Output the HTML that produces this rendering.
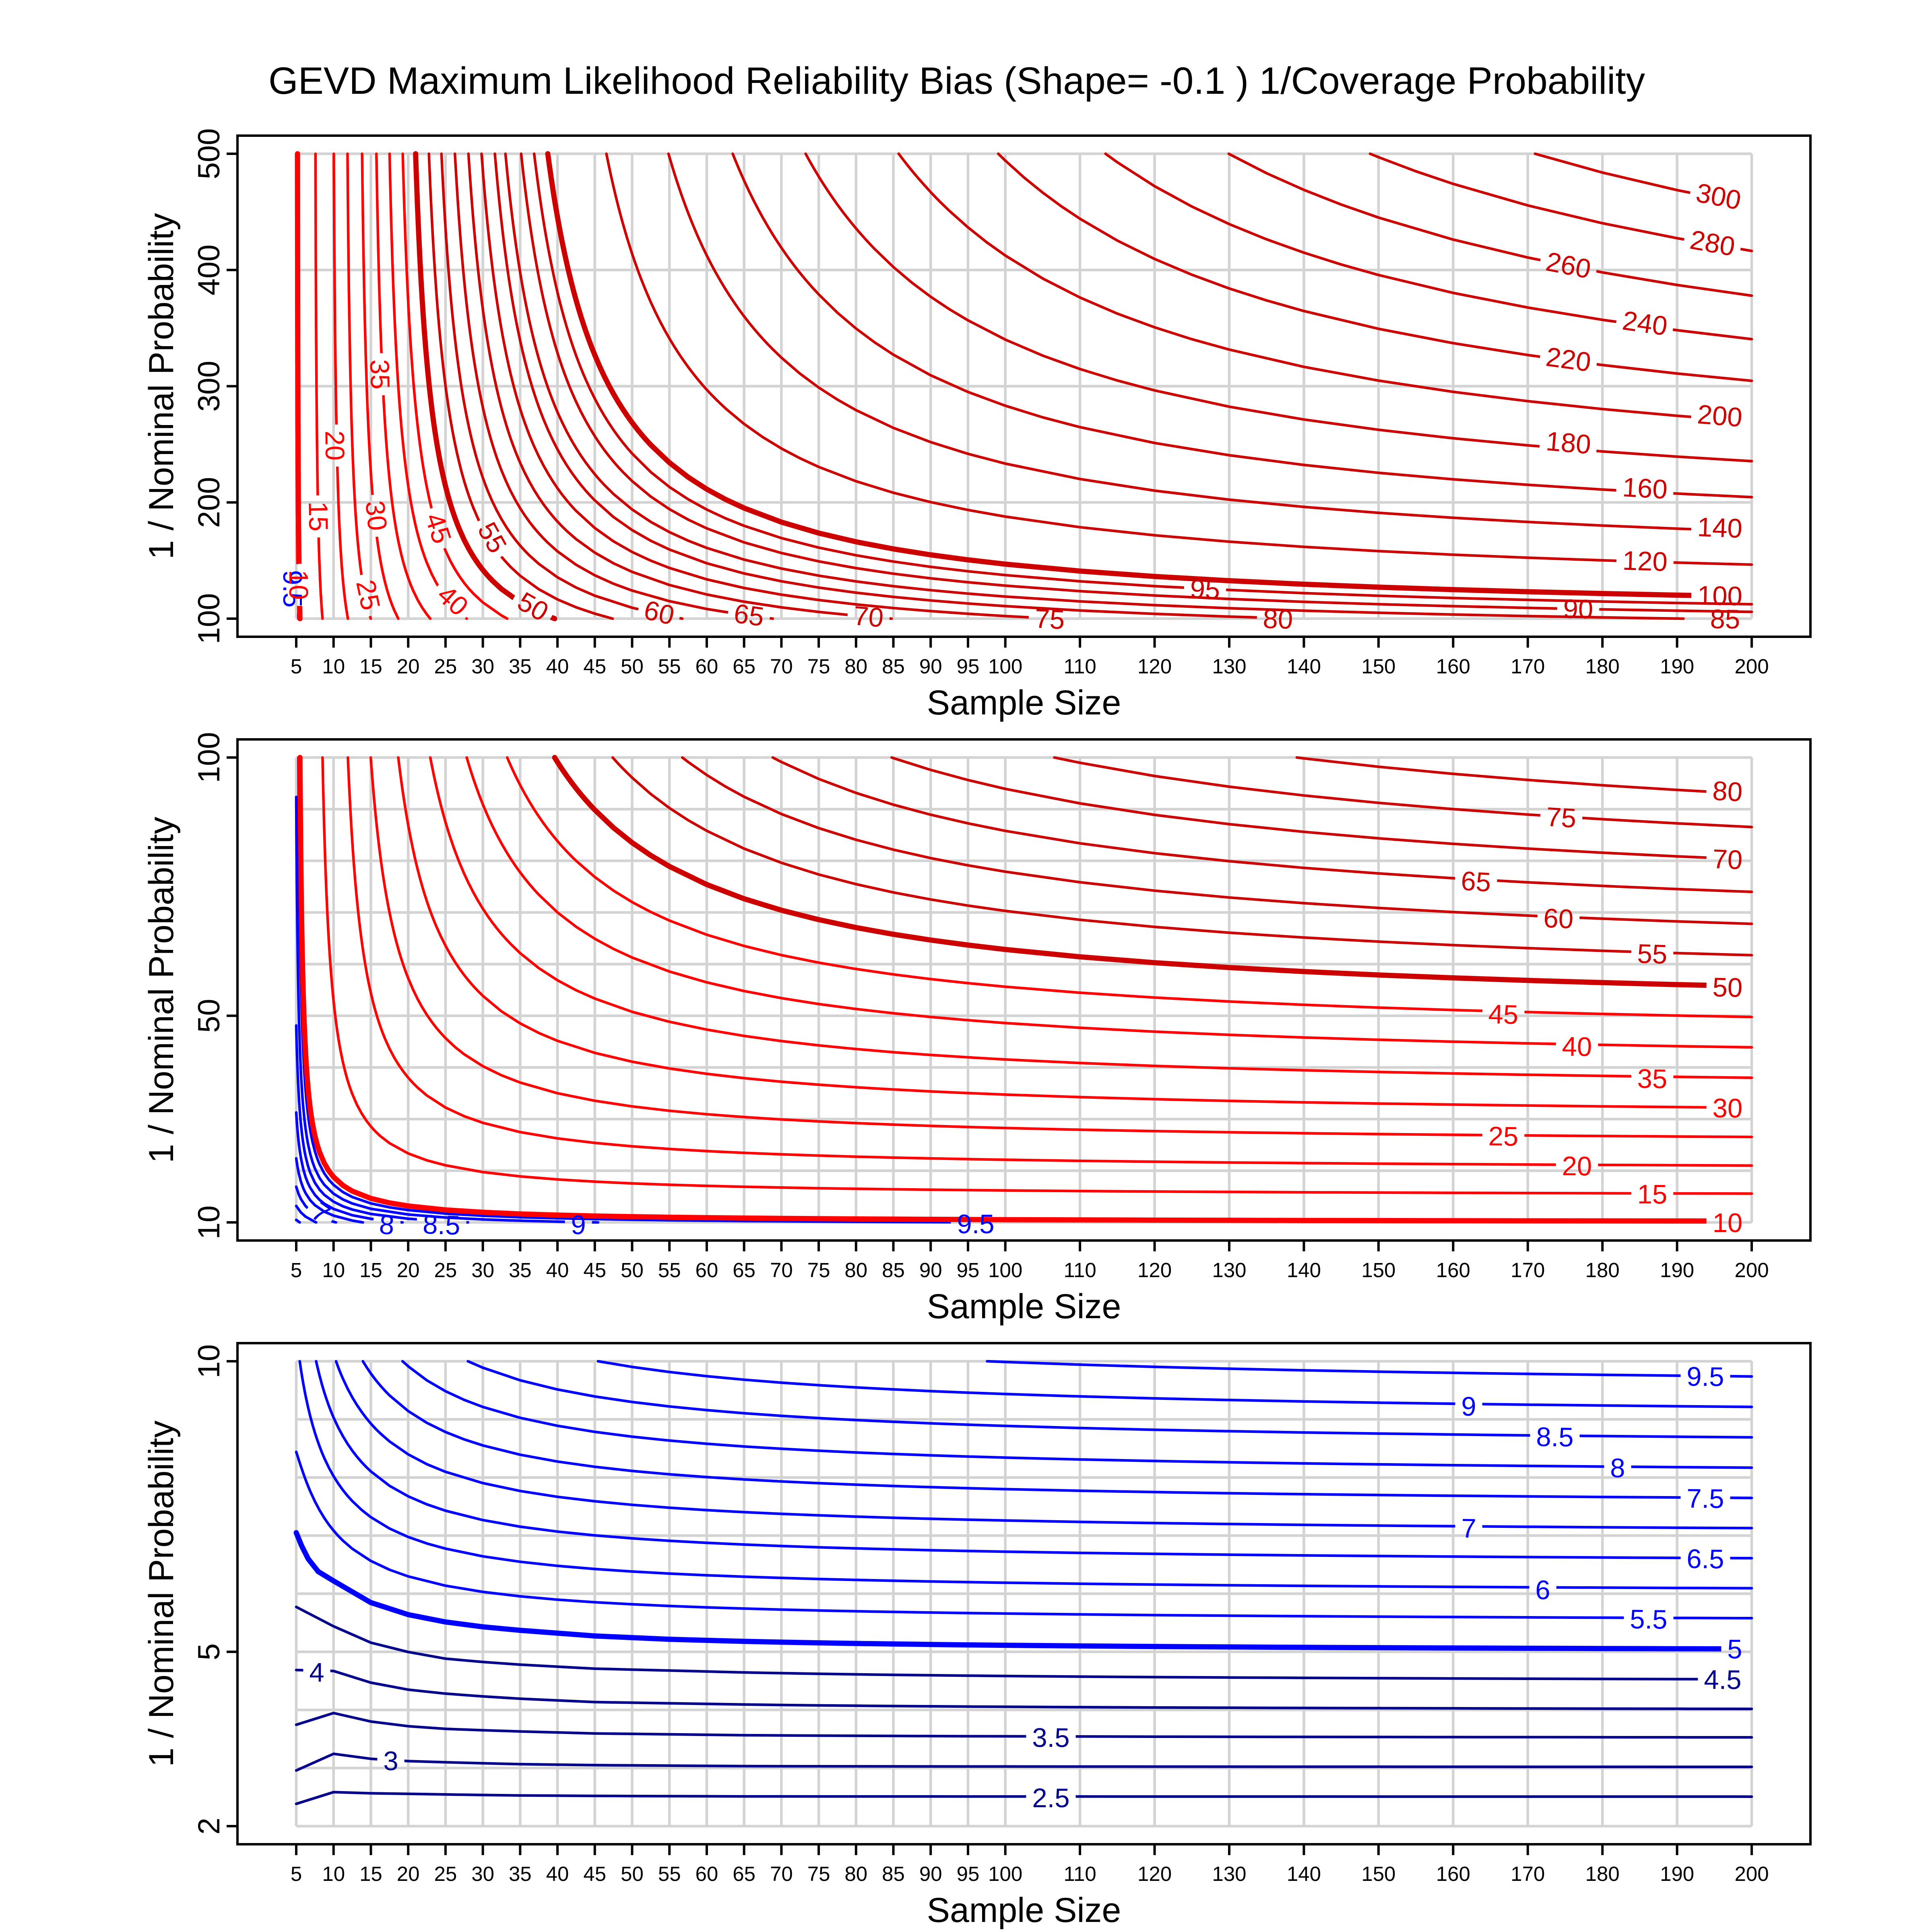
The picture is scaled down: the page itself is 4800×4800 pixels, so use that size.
<!DOCTYPE html>
<html><head><meta charset="utf-8">
<style>
html,body{margin:0;padding:0;background:#fff;}
svg{display:block;}
text{font-family:"Liberation Sans",Arial,sans-serif;}
</style></head><body>
<svg id="svg" xmlns="http://www.w3.org/2000/svg" width="4800" height="4800" viewBox="0 0 4800 4800">
<defs>
<path id="vgrid" d="M736 382V1537M828.72 382V1537M921.44 382V1537M1014.16 382V1537M1106.88 382V1537M1199.6 382V1537M1292.32 382V1537M1385.04 382V1537M1477.76 382V1537M1570.48 382V1537M1663.2 382V1537M1755.92 382V1537M1848.64 382V1537M1941.36 382V1537M2034.08 382V1537M2126.8 382V1537M2219.52 382V1537M2312.24 382V1537M2404.96 382V1537M2497.68 382V1537M2683.12 382V1537M2868.56 382V1537M3054 382V1537M3239.44 382V1537M3424.88 382V1537M3610.32 382V1537M3795.76 382V1537M3981.2 382V1537M4166.64 382V1537M4352.08 382V1537"/>
<path id="xticks" d="M736 1582V1609M828.72 1582V1609M921.44 1582V1609M1014.16 1582V1609M1106.88 1582V1609M1199.6 1582V1609M1292.32 1582V1609M1385.04 1582V1609M1477.76 1582V1609M1570.48 1582V1609M1663.2 1582V1609M1755.92 1582V1609M1848.64 1582V1609M1941.36 1582V1609M2034.08 1582V1609M2126.8 1582V1609M2219.52 1582V1609M2312.24 1582V1609M2404.96 1582V1609M2497.68 1582V1609M2683.12 1582V1609M2868.56 1582V1609M3054 1582V1609M3239.44 1582V1609M3424.88 1582V1609M3610.32 1582V1609M3795.76 1582V1609M3981.2 1582V1609M4166.64 1582V1609M4352.08 1582V1609"/>
</defs>
<rect width="4800" height="4800" fill="#fff"/>
<text x="667" y="233" font-size="95" textLength="3420" lengthAdjust="spacingAndGlyphs">GEVD Maximum Likelihood Reliability Bias (Shape= -0.1 ) 1/Coverage Probability</text>

<!-- PANEL 1 -->
<g id="panel1">
<g stroke="#D3D3D3" stroke-width="6.5" fill="none">
<use href="#vgrid"/>
<path d="M736 382H4352M736 670.75H4352M736 959.5H4352M736 1248.25H4352M736 1537H4352"/>
</g>
<g id="con1"></g>
<g id="lab1" font-size="67" text-anchor="middle">
<text x="4270" y="487" dy="0.36em" transform="rotate(11 4270 487)" fill="#CD0000">300</text>
<text x="4255" y="603" dy="0.36em" transform="rotate(10 4255 603)" fill="#CD0000">280</text>
<text x="3897" y="658" dy="0.36em" transform="rotate(11 3897 658)" fill="#CD0000">260</text>
<text x="4087" y="802" dy="0.36em" transform="rotate(8 4087 802)" fill="#CD0000">240</text>
<text x="3897" y="892" dy="0.36em" transform="rotate(7.7 3897 892)" fill="#CD0000">220</text>
<text x="4273" y="1032" dy="0.36em" transform="rotate(4.5 4273 1032)" fill="#CD0000">200</text>
<text x="3897" y="1099" dy="0.36em" transform="rotate(4.8 3897 1099)" fill="#CD0000">180</text>
<text x="4087" y="1212" dy="0.36em" transform="rotate(3.2 4087 1212)" fill="#CD0000">160</text>
<text x="4273" y="1310" dy="0.36em" transform="rotate(2.1 4273 1310)" fill="#CD0000">140</text>
<text x="4087" y="1393" dy="0.36em" transform="rotate(1.8 4087 1393)" fill="#CD0000">120</text>
<text x="4273" y="1479" dy="0.36em" transform="rotate(1.1 4273 1479)" fill="#CD0000">100</text>
<text x="2994" y="1463" dy="0.36em" transform="rotate(2.8 2994 1463)" fill="#CD0000">95</text>
<text x="3921" y="1512" dy="0.36em" transform="rotate(1.1 3921 1512)" fill="#CD0000">90</text>
<text x="4286" y="1537" dy="0.36em" transform="rotate(0.8 4286 1537)" fill="#CD0000">85</text>
<text x="3175" y="1537" dy="0.36em" transform="rotate(1.7 3175 1537)" fill="#CD0000">80</text>
<text x="2608" y="1537" dy="0.36em" transform="rotate(2.8 2608 1537)" fill="#CD0000">75</text>
<text x="2158" y="1531" dy="0.36em" transform="rotate(5 2158 1531)" fill="#CD0000">70</text>
<text x="1861" y="1527" dy="0.36em" transform="rotate(8 1861 1527)" fill="#CD0000">65</text>
<text x="1638" y="1521" dy="0.36em" transform="rotate(13 1638 1521)" fill="#CD0000">60</text>
<text x="1224" y="1335" dy="0.36em" transform="rotate(61 1224 1335)" fill="#CD0000">55</text>
<text x="1325" y="1506" dy="0.36em" transform="rotate(30 1325 1506)" fill="#CD0000">50</text>
<text x="1090" y="1312" dy="0.36em" transform="rotate(72 1090 1312)" fill="#FF0000">45</text>
<text x="1126" y="1491" dy="0.36em" transform="rotate(42 1126 1491)" fill="#FF0000">40</text>
<text x="945" y="930" dy="0.36em" transform="rotate(88 945 930)" fill="#FF0000">35</text>
<text x="936" y="1281" dy="0.36em" transform="rotate(84 936 1281)" fill="#FF0000">30</text>
<text x="916" y="1478" dy="0.36em" transform="rotate(78 916 1478)" fill="#FF0000">25</text>
<text x="833" y="1107" dy="0.36em" transform="rotate(89 833 1107)" fill="#FF0000">20</text>
<text x="792" y="1283" dy="0.36em" transform="rotate(89 792 1283)" fill="#FF0000">15</text>
<text x="728" y="1463" dy="0.36em" transform="rotate(90 728 1463)" fill="#0000FF">9.5</text>
<text x="743" y="1453" dy="0.36em" transform="rotate(90 743 1453)" fill="#FF0000">10</text>
</g>
<rect x="590" y="337" width="3908" height="1245" fill="none" stroke="#000" stroke-width="6"/>
<use href="#xticks" stroke="#000" stroke-width="6"/>
<path d="M563 382H590M563 670.75H590M563 959.5H590M563 1248.25H590M563 1537H590" stroke="#000" stroke-width="6"/>
<g font-size="76" text-anchor="middle">
<text x="545" y="382" transform="rotate(-90 545 382)">500</text>
<text x="545" y="670.75" transform="rotate(-90 545 670.75)">400</text>
<text x="545" y="959.5" transform="rotate(-90 545 959.5)">300</text>
<text x="545" y="1248.25" transform="rotate(-90 545 1248.25)">200</text>
<text x="545" y="1537" transform="rotate(-90 545 1537)">100</text>
</g>
<g font-size="51" text-anchor="middle">
<text x="736" y="1673">5</text><text x="828.72" y="1673">10</text><text x="921.44" y="1673">15</text><text x="1014.16" y="1673">20</text><text x="1106.88" y="1673">25</text><text x="1199.6" y="1673">30</text><text x="1292.32" y="1673">35</text><text x="1385.04" y="1673">40</text><text x="1477.76" y="1673">45</text><text x="1570.48" y="1673">50</text><text x="1663.2" y="1673">55</text><text x="1755.92" y="1673">60</text><text x="1848.64" y="1673">65</text><text x="1941.36" y="1673">70</text><text x="2034.08" y="1673">75</text><text x="2126.8" y="1673">80</text><text x="2219.52" y="1673">85</text><text x="2312.24" y="1673">90</text><text x="2404.96" y="1673">95</text><text x="2497.68" y="1673">100</text><text x="2683.12" y="1673">110</text><text x="2868.56" y="1673">120</text><text x="3054" y="1673">130</text><text x="3239.44" y="1673">140</text><text x="3424.88" y="1673">150</text><text x="3610.32" y="1673">160</text><text x="3795.76" y="1673">170</text><text x="3981.2" y="1673">180</text><text x="4166.64" y="1673">190</text><text x="4352.08" y="1673">200</text>
</g>
<text x="2544" y="1775" font-size="86" text-anchor="middle">Sample Size</text>
<text x="430" y="959.5" font-size="86" text-anchor="middle" transform="rotate(-90 430 959.5)">1 / Nominal Probability</text>
</g>

<!-- PANEL 2 -->
<g id="panel2" transform="translate(0,1500)">
<g stroke="#D3D3D3" stroke-width="6.5" fill="none">
<use href="#vgrid"/>
<path d="M736 382H4352M736 510.33H4352M736 638.67H4352M736 767H4352M736 895.33H4352M736 1023.67H4352M736 1152H4352M736 1280.33H4352M736 1408.67H4352M736 1537H4352"/>
</g>
<g id="con2"></g>
<g id="lab2" font-size="67" text-anchor="middle">
<text x="4292" y="465" dy="0.36em" transform="rotate(3 4292 465)" fill="#CD0000">80</text>
<text x="3879" y="530" dy="0.36em" transform="rotate(3.6 3879 530)" fill="#CD0000">75</text>
<text x="4292" y="634" dy="0.36em" transform="rotate(2.4 4292 634)" fill="#CD0000">70</text>
<text x="3667" y="689" dy="0.36em" transform="rotate(3.2 3667 689)" fill="#CD0000">65</text>
<text x="3872" y="781" dy="0.36em" transform="rotate(2.4 3872 781)" fill="#CD0000">60</text>
<text x="4105" y="869" dy="0.36em" transform="rotate(1.7 4105 869)" fill="#CD0000">55</text>
<text x="4292" y="952" dy="0.36em" transform="rotate(1.2 4292 952)" fill="#CD0000">50</text>
<text x="3735" y="1019" dy="0.36em" transform="rotate(1.5 3735 1019)" fill="#FF0000">45</text>
<text x="3918" y="1099" dy="0.36em" transform="rotate(1.2 3918 1099)" fill="#FF0000">40</text>
<text x="4105" y="1179" dy="0.36em" transform="rotate(0.9 4105 1179)" fill="#FF0000">35</text>
<text x="4292" y="1252" dy="0.36em" transform="rotate(0.6 4292 1252)" fill="#FF0000">30</text>
<text x="3735" y="1322" dy="0.36em" transform="rotate(0.7 3735 1322)" fill="#FF0000">25</text>
<text x="3918" y="1396" dy="0.36em" transform="rotate(0.5 3918 1396)" fill="#FF0000">20</text>
<text x="4105" y="1466" dy="0.36em" transform="rotate(0.3 4105 1466)" fill="#FF0000">15</text>
<text x="4292" y="1537" dy="0.36em" transform="rotate(0 4292 1537)" fill="#FF0000">10</text>
<text x="2424" y="1540" dy="0.36em" transform="rotate(0 2424 1540)" fill="#0000FF">9.5</text>
<text x="1437" y="1542" dy="0.36em" transform="rotate(1 1437 1542)" fill="#0000FF">9</text>
<text x="1097" y="1542" dy="0.36em" transform="rotate(2 1097 1542)" fill="#0000FF">8.5</text>
<text x="961" y="1542" dy="0.36em" transform="rotate(4 961 1542)" fill="#0000FF">8</text>
<text x="798" y="1512" dy="0.36em" transform="rotate(35 798 1512)" fill="#0000FF">7</text>
</g>
<rect x="590" y="337" width="3908" height="1245" fill="none" stroke="#000" stroke-width="6"/>
<use href="#xticks" stroke="#000" stroke-width="6"/>
<path d="M563 382H590M563 1023.67H590M563 1537H590" stroke="#000" stroke-width="6"/>
<g font-size="76" text-anchor="middle">
<text x="545" y="382" transform="rotate(-90 545 382)">100</text>
<text x="545" y="1023.67" transform="rotate(-90 545 1023.67)">50</text>
<text x="545" y="1537" transform="rotate(-90 545 1537)">10</text>
</g>
<g font-size="51" text-anchor="middle">
<text x="736" y="1673">5</text><text x="828.72" y="1673">10</text><text x="921.44" y="1673">15</text><text x="1014.16" y="1673">20</text><text x="1106.88" y="1673">25</text><text x="1199.6" y="1673">30</text><text x="1292.32" y="1673">35</text><text x="1385.04" y="1673">40</text><text x="1477.76" y="1673">45</text><text x="1570.48" y="1673">50</text><text x="1663.2" y="1673">55</text><text x="1755.92" y="1673">60</text><text x="1848.64" y="1673">65</text><text x="1941.36" y="1673">70</text><text x="2034.08" y="1673">75</text><text x="2126.8" y="1673">80</text><text x="2219.52" y="1673">85</text><text x="2312.24" y="1673">90</text><text x="2404.96" y="1673">95</text><text x="2497.68" y="1673">100</text><text x="2683.12" y="1673">110</text><text x="2868.56" y="1673">120</text><text x="3054" y="1673">130</text><text x="3239.44" y="1673">140</text><text x="3424.88" y="1673">150</text><text x="3610.32" y="1673">160</text><text x="3795.76" y="1673">170</text><text x="3981.2" y="1673">180</text><text x="4166.64" y="1673">190</text><text x="4352.08" y="1673">200</text>
</g>
<text x="2544" y="1775" font-size="86" text-anchor="middle">Sample Size</text>
<text x="430" y="959.5" font-size="86" text-anchor="middle" transform="rotate(-90 430 959.5)">1 / Nominal Probability</text>
</g>

<!-- PANEL 3 -->
<g id="panel3" transform="translate(0,3000)">
<g stroke="#D3D3D3" stroke-width="6.5" fill="none">
<use href="#vgrid"/>
<path d="M736 382H4352M736 526.38H4352M736 670.75H4352M736 815.13H4352M736 959.5H4352M736 1103.88H4352M736 1248.25H4352M736 1392.63H4352M736 1537H4352"/>
</g>
<g id="con3"></g>
<g id="lab3" font-size="67" text-anchor="middle">
<text x="4237" y="419" dy="0.36em" transform="rotate(0.6 4237 419)" fill="#0000FF">9.5</text>
<text x="3649" y="493" dy="0.36em" transform="rotate(0.8 3649 493)" fill="#0000FF">9</text>
<text x="3863" y="569" dy="0.36em" transform="rotate(0.8 3863 569)" fill="#0000FF">8.5</text>
<text x="4019" y="646" dy="0.36em" transform="rotate(0.8 4019 646)" fill="#0000FF">8</text>
<text x="4237" y="722" dy="0.36em" transform="rotate(0.6 4237 722)" fill="#0000FF">7.5</text>
<text x="3649" y="796" dy="0.36em" transform="rotate(1 3649 796)" fill="#0000FF">7</text>
<text x="4237" y="872" dy="0.36em" transform="rotate(0.6 4237 872)" fill="#0000FF">6.5</text>
<text x="3833" y="949" dy="0.36em" transform="rotate(0.7 3833 949)" fill="#0000FF">6</text>
<text x="4096" y="1022" dy="0.36em" transform="rotate(0.6 4096 1022)" fill="#0000FF">5.5</text>
<text x="4310" y="1096" dy="0.36em" transform="rotate(0.5 4310 1096)" fill="#0000FF">5</text>
<text x="4280" y="1172" dy="0.36em" transform="rotate(0.4 4280 1172)" fill="#00008B">4.5</text>
<text x="787" y="1154" dy="0.36em" transform="rotate(0 787 1154)" fill="#00008B">4</text>
<text x="2611" y="1316" dy="0.36em" transform="rotate(0.3 2611 1316)" fill="#00008B">3.5</text>
<text x="971" y="1374" dy="0.36em" transform="rotate(0 971 1374)" fill="#00008B">3</text>
<text x="2611" y="1466" dy="0.36em" transform="rotate(0 2611 1466)" fill="#00008B">2.5</text>
</g>
<rect x="590" y="337" width="3908" height="1245" fill="none" stroke="#000" stroke-width="6"/>
<use href="#xticks" stroke="#000" stroke-width="6"/>
<path d="M563 382H590M563 1103.88H590M563 1537H590" stroke="#000" stroke-width="6"/>
<g font-size="76" text-anchor="middle">
<text x="545" y="382" transform="rotate(-90 545 382)">10</text>
<text x="545" y="1103.88" transform="rotate(-90 545 1103.88)">5</text>
<text x="545" y="1537" transform="rotate(-90 545 1537)">2</text>
</g>
<g font-size="51" text-anchor="middle">
<text x="736" y="1673">5</text><text x="828.72" y="1673">10</text><text x="921.44" y="1673">15</text><text x="1014.16" y="1673">20</text><text x="1106.88" y="1673">25</text><text x="1199.6" y="1673">30</text><text x="1292.32" y="1673">35</text><text x="1385.04" y="1673">40</text><text x="1477.76" y="1673">45</text><text x="1570.48" y="1673">50</text><text x="1663.2" y="1673">55</text><text x="1755.92" y="1673">60</text><text x="1848.64" y="1673">65</text><text x="1941.36" y="1673">70</text><text x="2034.08" y="1673">75</text><text x="2126.8" y="1673">80</text><text x="2219.52" y="1673">85</text><text x="2312.24" y="1673">90</text><text x="2404.96" y="1673">95</text><text x="2497.68" y="1673">100</text><text x="2683.12" y="1673">110</text><text x="2868.56" y="1673">120</text><text x="3054" y="1673">130</text><text x="3239.44" y="1673">140</text><text x="3424.88" y="1673">150</text><text x="3610.32" y="1673">160</text><text x="3795.76" y="1673">170</text><text x="3981.2" y="1673">180</text><text x="4166.64" y="1673">190</text><text x="4352.08" y="1673">200</text>
</g>
<text x="2544" y="1775" font-size="86" text-anchor="middle">Sample Size</text>
<text x="430" y="959.5" font-size="86" text-anchor="middle" transform="rotate(-90 430 959.5)">1 / Nominal Probability</text>
</g>
</svg>
<script>
(function(){
var SVGNS='http://www.w3.org/2000/svg';
var NS=[];for(var n=5;n<=100;n+=5)NS.push(n);for(var n2=110;n2<=200;n2+=10)NS.push(n2);
function X(n){return 736+(n-5)*18.544;}
var CT=[[10,.51],[15,.492],[20,.483],[25,.465],[30,.457],[35,.452],[40,.444],[45,.426],[50,.41],[55,.397],[60,.384],[65,.374],[70,.365],[75,.356],[80,.348],[85,.337],[90,.333],[95,.326],[100,.32],[120,.3015],[140,.2864],[160,.2724],[180,.262],[200,.258],[220,.2526],[240,.246],[260,.24],[280,.234],[300,.228]];
function interp(tab,L){if(L<=tab[0][0])return tab[0][1];for(var i=1;i<tab.length;i++){if(L<=tab[i][0]){var a=tab[i-1][0],b=tab[i-1][1],c=tab[i][0],d=tab[i][1];return b+(d-b)*(L-a)/(c-a);}}return tab[tab.length-1][1];}
function cinf(L){return L<10?0.52:interp(CT,L);}
function Aof(L){if(L>=40)return .22;if(L<25)return 0;return interp([[25,.05],[30,.1],[35,.16],[40,.22]],L);}
function modelF(L){return function(n){var c=cinf(L)*(1-Aof(L)*Math.exp(-n/20));var a=3.3*Math.pow(5/n,1.1);var den=1/L-c/n;if(den<=0)return Infinity;return (1-c*a/n)/den;};}
var HC={
 '2.5':[[5,2.384],[10,2.585],[15,2.565],[20,2.556],[25,2.545],[30,2.536],[35,2.528],[45,2.52],[65,2.512],[200,2.508]],
 '3':[[5,2.958],[10,3.245],[15,3.159],[20,3.119],[25,3.10],[30,3.082],[35,3.067],[45,3.05],[65,3.033],[200,3.02]],
 '3.5':[[5,3.745],[10,3.946],[15,3.80],[20,3.72],[25,3.674],[30,3.65],[35,3.63],[45,3.595],[65,3.565],[200,3.528]],
 '4':[[5,4.687],[10,4.67],[15,4.469],[20,4.349],[25,4.28],[30,4.233],[35,4.193],[45,4.135],[65,4.093],[200,4.018]],
 '4.5':[[5,5.772],[10,5.439],[15,5.158],[20,4.997],[25,4.882],[30,4.825],[35,4.779],[45,4.71],[65,4.645],[200,4.527]],
 '5':[[5,7.05],[5.7,6.83],[6.6,6.6],[7.95,6.38],[10,6.22],[15,5.847],[20,5.64],[25,5.514],[30,5.43],[35,5.37],[45,5.273],[55,5.215],[65,5.18],[200,5.05]]
};
function hcFunc(arr){return function(n){if(n<=arr[0][0])return arr[0][1];for(var i=1;i<arr.length;i++){if(n<=arr[i][0]+1e-9){var n1=arr[i-1][0],t1=arr[i-1][1],nn=arr[i][0],t2=arr[i][1];if(i===arr.length-1&&n1>=60){var B=(t1-t2)/(1/n1-1/nn);var A=t2-B/nn;return A+B/n;}return t1+(t2-t1)*(n-n1)/(nn-n1);}}return arr[arr.length-1][1];};}
function range(a,b,s){var r=[];for(var v=a;v<=b+1e-9;v+=s)r.push(Math.round(v*10)/10);return r;}
var panels=[
 {id:1,Tmin:100,Tmax:500,levels:[9.5].concat(range(10,100,5),range(120,300,20))},
 {id:2,Tmin:10,Tmax:100,levels:range(5.5,9.5,0.5).concat(range(10,80,5))},
 {id:3,Tmin:2,Tmax:10,levels:range(2.5,9.5,0.5)}
];
function color(L){if(L>=10)return L>=50?'#CD0000':'#FF0000';return L>=5?'#0000FF':'#00008B';}
function isThick(L){return L===5||L===10||L===50||L===100;}
panels.forEach(function(P){
 P.sy=1155/(P.Tmax-P.Tmin);
 var span=P.Tmax-P.Tmin;
 function Y(T){return 382+(P.Tmax-T)*P.sy;}
 function Yc(T){var t=isFinite(T)?T:P.Tmax+span;t=Math.min(Math.max(t,P.Tmin-span),P.Tmax+span);return Y(t);}
 function inside(T){return isFinite(T)&&T>=P.Tmin-1e-9&&T<=P.Tmax+1e-9;}
 function sample(f){
  var pts=[];
  function rec(n1,T1,n2,T2,d){
   if(d>16)return;
   var x1=X(n1),x2=X(n2),y1=Yc(T1),y2=Yc(T2);
   var nm=(n1+n2)/2,Tm=f(nm),ym=Yc(Tm);
   var dev=Math.abs(ym-(y1+y2)/2);
   var len=Math.sqrt((x2-x1)*(x2-x1)+(y2-y1)*(y2-y1));
   if(dev>1.5||(len>30&&Math.abs(y2-y1)>Math.abs(x2-x1))){rec(n1,T1,nm,Tm,d+1);pts.push([nm,Tm]);rec(nm,Tm,n2,T2,d+1);}
  }
  var T0=f(NS[0]);pts.push([NS[0],T0]);
  for(var i=1;i<NS.length;i++){var T1=f(NS[i]);rec(NS[i-1],T0,NS[i],T1,0);pts.push([NS[i],T1]);T0=T1;}
  return pts;
 }
 function clip(pts,f){
  var segs=[],cur=[];
  for(var i=0;i<pts.length;i++){
   var n=pts[i][0],T=pts[i][1],ins=inside(T);
   if(i>0){var n0=pts[i-1][0],T0=pts[i-1][1],ins0=inside(T0);
    if(ins0!==ins){
     var lo=n0,hi=n;for(var k=0;k<50;k++){var m=(lo+hi)/2;if(inside(f(m))===ins0)lo=m;else hi=m;}
     var nb=(lo+hi)/2,Tb=f(nb);var Tcl=Math.min(Math.max(isFinite(Tb)?Tb:P.Tmax,P.Tmin),P.Tmax);
     if(ins0){cur.push([nb,Tcl]);if(cur.length>1)segs.push(cur);cur=[];}else{cur=[[nb,Tcl]];}
    }
   }
   if(ins)cur.push([n,T]);
  }
  if(cur.length>1)segs.push(cur);
  return segs;
 }
 var con=document.getElementById('con'+P.id);
 var svg=document.getElementById('svg');
 var defs=svg.querySelector('defs');
 var labMap={};
 var labs=document.querySelectorAll('#lab'+P.id+' text');
 for(var li=0;li<labs.length;li++){var t=labs[li];var len=80;try{len=t.getComputedTextLength();}catch(e){}labMap[String(parseFloat(t.textContent))]={x:+t.getAttribute('x'),y:+t.getAttribute('y'),tr:t.getAttribute('transform'),len:len};}
 P.levels.forEach(function(L){
  var f,pts;
  if(P.id===3&&HC[String(L)]){
   var arr=HC[String(L)];f=hcFunc(arr);
   var ns=NS.slice();arr.forEach(function(p){if(ns.indexOf(p[0])<0)ns.push(p[0]);});
   ns.sort(function(a,b){return a-b;});
   pts=ns.map(function(n){return [n,f(n)];});
  } else {f=modelF(L);pts=sample(f);}
  var segs=clip(pts,f);
  if(!segs.length)return;
  var d='';
  segs.forEach(function(s){d+='M'+s.map(function(p){return X(p[0]).toFixed(1)+' '+Y(p[1]).toFixed(1);}).join('L');});
  var path=document.createElementNS(SVGNS,'path');
  path.setAttribute('d',d);path.setAttribute('fill','none');
  path.setAttribute('stroke',color(L));path.setAttribute('stroke-width',isThick(L)?13:6.5);
  path.setAttribute('stroke-linecap','round');path.setAttribute('stroke-linejoin','round');
  var lab=labMap[String(L)];
  if(lab){
   var id='mk'+P.id+'_'+String(L).replace('.','p');
   var mk=document.createElementNS(SVGNS,'mask');
   mk.setAttribute('id',id);mk.setAttribute('maskUnits','userSpaceOnUse');
   mk.setAttribute('x',-500);mk.setAttribute('y',-500);mk.setAttribute('width',5800);mk.setAttribute('height',2800);
   var bg=document.createElementNS(SVGNS,'rect');
   bg.setAttribute('x',-500);bg.setAttribute('y',-500);bg.setAttribute('width',5800);bg.setAttribute('height',2800);bg.setAttribute('fill','#fff');
   mk.appendChild(bg);
   var w=lab.len+30,h=58;
   var x0=lab.x-w/2,x1=lab.x+w/2;
   if(4352-x1<20)x1=4440;
   var r=document.createElementNS(SVGNS,'rect');
   r.setAttribute('x',x0);r.setAttribute('y',lab.y-h/2);r.setAttribute('width',x1-x0);r.setAttribute('height',h);r.setAttribute('fill','#000');
   if(lab.tr)r.setAttribute('transform',lab.tr);
   mk.appendChild(r);defs.appendChild(mk);
   path.setAttribute('mask','url(#'+id+')');
  }
  con.appendChild(path);
 });
});
})();
</script>
</body></html>
